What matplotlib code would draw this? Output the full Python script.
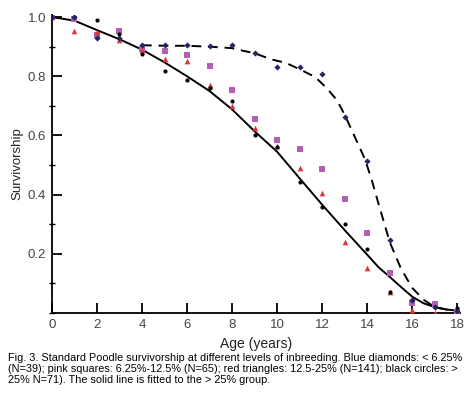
import numpy as np
import matplotlib
matplotlib.use("Agg")
import matplotlib.pyplot as plt
from matplotlib.ticker import MultipleLocator

plt.rcParams['font.family'] = ['Liberation Sans', 'DejaVu Sans']

# survivorship by age
age = list(range(19))
blue_diamonds = [1.0, 1.0, 0.929, 0.93, 0.906, 0.905, 0.905, 0.903, 0.905, 0.88,
                 0.831, 0.83, 0.807, 0.664, 0.512, 0.247, 0.045, 0.02, 0.006]
pink_squares = [1.0, 0.993, 0.94, 0.954, 0.893, 0.886, 0.871, 0.835, 0.754, 0.654,
                0.586, 0.553, 0.488, 0.386, 0.27, 0.134, 0.035, 0.03, 0.004]
red_triangles = [1.0, 0.954, 0.948, 0.923, 0.89, 0.857, 0.85, 0.769, 0.698, 0.624,
                 0.563, 0.49, 0.407, 0.24, 0.153, 0.07, 0.01, 0.0, 0.0]
black_circles = [1.0, 1.0, 0.99, 0.944, 0.875, 0.818, 0.789, 0.762, 0.716, 0.603,
                 0.56, 0.444, 0.359, 0.302, 0.217, 0.072, 0.044, 0.02, 0.017]

# fitted curve (> 25% group) and dashed curve
fit_x = [0, 1, 2, 3, 4, 5, 6, 7, 8, 9, 10, 11, 12, 13, 14, 14.5, 15, 15.5, 16, 16.5, 17, 17.5, 18]
fit_y = [1.0, 0.988, 0.956, 0.925, 0.89, 0.847, 0.80, 0.75, 0.688, 0.614, 0.545, 0.455,
         0.366, 0.28, 0.197, 0.155, 0.122, 0.088, 0.055, 0.033, 0.02, 0.012, 0.008]
dash_x = [4, 5, 6, 7, 8, 8.5, 9, 9.7, 10.4, 11.1, 11.7, 12.2, 12.65, 13.0, 13.3, 13.6,
          13.9, 14.2, 14.5, 15, 15.5, 16, 16.5, 17, 17.5, 18]
dash_y = [0.905, 0.903, 0.903, 0.9, 0.895, 0.886, 0.878, 0.858, 0.845, 0.82, 0.797, 0.76,
          0.72, 0.67, 0.62, 0.57, 0.52, 0.45, 0.37, 0.24, 0.15, 0.085, 0.045, 0.02, 0.012, 0.008]

fig = plt.figure(figsize=(4.72, 3.95), dpi=100)
ax = fig.add_axes([0.110, 0.2076, 0.865, 0.7544])

ax.plot(fit_x, fit_y, color='black', lw=1.4, zorder=2)
ax.plot(dash_x, dash_y, color='black', lw=1.4, dashes=(5, 3.5), zorder=2)

ax.scatter(age, pink_squares, marker='s', s=15, color='#b35db3', zorder=3, linewidths=0)
ax.scatter(age, red_triangles, marker='^', s=17, color='#d83a3f', zorder=3, linewidths=0)
ax.scatter(age, black_circles, marker='o', s=9, color='black', zorder=4, linewidths=0)
ax.scatter(age, blue_diamonds, marker='D', s=10, color='#24246a', zorder=4, linewidths=0)

ax.set_xlim(0, 18.13)
ax.set_ylim(0, 1.007)
ax.xaxis.set_major_locator(MultipleLocator(2))
ax.yaxis.set_minor_locator(MultipleLocator(0.1))
ax.set_yticks([0.2, 0.4, 0.6, 0.8, 1.0])
ax.set_yticklabels(['0.2', '0.4', '0.6', '0.8', '1.0'])

for s in ['top', 'right']:
    ax.spines[s].set_visible(False)
for s in ['left', 'bottom']:
    ax.spines[s].set_linewidth(1.3)

ax.tick_params(axis='both', which='major', direction='in', length=7, width=1.3,
               labelsize=9.5, labelcolor='#444444', pad=4)
ax.tick_params(axis='y', which='minor', direction='inout', length=4, width=1.0)

ax.set_xlabel('Age (years)', fontsize=10, color='#222222', labelpad=5)
ax.set_ylabel('Survivorship', fontsize=9.5, color='#222222', labelpad=3)

caption = ("Fig. 3. Standard Poodle survivorship at different levels of inbreeding. Blue diamonds: < 6.25%\n"
           "(N=39); pink squares: 6.25%-12.5% (N=65); red triangles: 12.5-25% (N=141); black circles: >\n"
           "25% N=71). The solid line is fitted to the > 25% group.")
fig.text(8 / 472, 1 - 353 / 395, caption, fontsize=7.85, va='top', ha='left',
         linespacing=1.1, color='black')

fig.savefig('out.png', dpi=100)
